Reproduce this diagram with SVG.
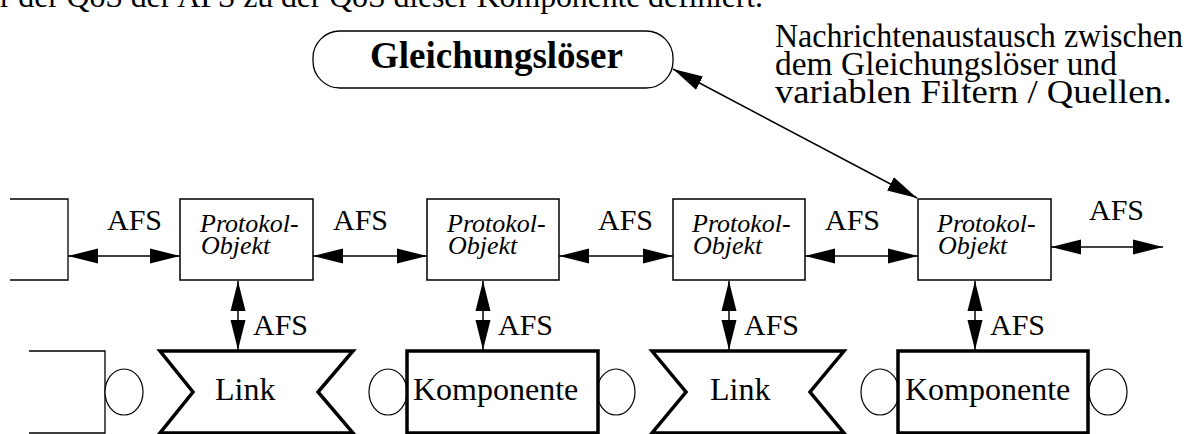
<svg xmlns="http://www.w3.org/2000/svg" width="1193" height="434" viewBox="0 0 1193 434">
  <style>
    .t { font-family: "Liberation Serif", "Times New Roman", serif; fill: #000; }
    .afs { font-size: 30px; }
    .po { font-size: 26px; font-style: italic; }
    .big { font-size: 32px; }
    .note { font-size: 33px; }
    .box { fill: #fff; stroke: #000; stroke-width: 1.5; }
    .thin { fill: none; stroke: #000; stroke-width: 1.3; }
    .thick { fill: #fff; stroke: #000; stroke-width: 3.5; }
    .ring { fill: #fff; stroke: #000; stroke-width: 1.2; }
    .conn { stroke: #000; stroke-width: 1.5; fill: none; marker-start: url(#head); marker-end: url(#head); }
  </style>
  <defs>
    <marker id="head" markerUnits="userSpaceOnUse" markerWidth="30" markerHeight="16" viewBox="0 0 30 15" refX="30" refY="7.5" orient="auto-start-reverse">
      <path d="M0,0 L30,7.5 L0,15 z" fill="#000"/>
    </marker>
  </defs>

  <rect width="1193" height="434" fill="#fff"/>

  <!-- running text line at the top edge -->
  <text class="t big" x="0" y="7" textLength="763" lengthAdjust="spacing">r der QoS der AFS zu der QoS dieser Komponente definiert.</text>

  <!-- annotation -->
  <g id="note">
    <text class="t note" x="775" y="47" textLength="408" lengthAdjust="spacingAndGlyphs">Nachrichtenaustausch zwischen</text>
    <text class="t note" x="775" y="75" textLength="342" lengthAdjust="spacingAndGlyphs">dem Gleichungslöser und</text>
    <text class="t note" x="775" y="103" textLength="397" lengthAdjust="spacingAndGlyphs">variablen Filtern / Quellen.</text>
  </g>

  <!-- solver -->
  <g id="solver">
    <rect x="313" y="31" width="360" height="57" rx="27" ry="27" fill="#fff" stroke="#000" stroke-width="1.3"/>
    <text class="t" x="370" y="68" font-size="37" font-weight="bold">Gleichungslöser</text>
  </g>

  <!-- protocol objects -->
  <g id="proto-left">
    <path class="thin" d="M10,199 H68 V280 H10"/>
  </g>
  <g id="proto-1">
    <rect class="box" x="180" y="199" width="133" height="81"/>
    <text class="t po" x="200" y="232">Protokol-</text>
    <text class="t po" x="201" y="254">Objekt</text>
  </g>
  <g id="proto-2">
    <rect class="box" x="427" y="199" width="132" height="81"/>
    <text class="t po" x="447" y="232">Protokol-</text>
    <text class="t po" x="448" y="254">Objekt</text>
  </g>
  <g id="proto-3">
    <rect class="box" x="673" y="199" width="132" height="81"/>
    <text class="t po" x="692" y="232">Protokol-</text>
    <text class="t po" x="693" y="254">Objekt</text>
  </g>
  <g id="proto-4">
    <rect class="box" x="918" y="199" width="133" height="81"/>
    <text class="t po" x="937" y="232">Protokol-</text>
    <text class="t po" x="938" y="254">Objekt</text>
  </g>

  <!-- bottom row: links and components -->
  <g id="comp-left">
    <path class="thin" d="M29,351 H105 V433 H29"/>
    <ellipse class="ring" cx="124" cy="392" rx="19" ry="23"/>
  </g>
  <g id="link-1">
    <path class="thick" d="M160,351 H353 L318,392 L353,433 H160 L193,392 Z"/>
    <text class="t big" x="215" y="400">Link</text>
  </g>
  <g id="comp-1">
    <ellipse class="ring" cx="388" cy="392" rx="19" ry="23"/>
    <ellipse class="ring" cx="616" cy="392" rx="19" ry="23"/>
    <rect class="thick" x="407" y="351" width="191" height="82"/>
    <text class="t big" x="413" y="400">Komponente</text>
  </g>
  <g id="link-2">
    <path class="thick" d="M652,351 H844 L810,392 L844,433 H652 L686,392 Z"/>
    <text class="t big" x="710" y="400">Link</text>
  </g>
  <g id="comp-2">
    <ellipse class="ring" cx="880" cy="392" rx="19" ry="23"/>
    <ellipse class="ring" cx="1108" cy="392" rx="19" ry="23"/>
    <rect class="thick" x="898" y="351" width="190" height="82"/>
    <text class="t big" x="905" y="400">Komponente</text>
  </g>

  <!-- connectors -->
  <g id="connectors">
    <line class="conn" x1="68" y1="256" x2="180" y2="256"/>
    <line class="conn" x1="313" y1="256" x2="427" y2="256"/>
    <line class="conn" x1="559" y1="256" x2="673" y2="256"/>
    <line class="conn" x1="805" y1="256" x2="918" y2="256"/>
    <line class="conn" x1="1051" y1="247" x2="1163" y2="247"/>

    <line class="conn" x1="238" y1="281" x2="238" y2="350"/>
    <line class="conn" x1="483" y1="281" x2="483" y2="350"/>
    <line class="conn" x1="729" y1="281" x2="729" y2="350"/>
    <line class="conn" x1="975" y1="281" x2="975" y2="350"/>

    <line class="conn" x1="673" y1="69" x2="917" y2="198" stroke-width="1.2"/>

    <text class="t afs" x="107" y="230">AFS</text>
    <text class="t afs" x="333" y="230">AFS</text>
    <text class="t afs" x="598" y="230">AFS</text>
    <text class="t afs" x="825" y="230">AFS</text>
    <text class="t afs" x="1089" y="220">AFS</text>

    <text class="t afs" x="253" y="335">AFS</text>
    <text class="t afs" x="498" y="335">AFS</text>
    <text class="t afs" x="744" y="335">AFS</text>
    <text class="t afs" x="990" y="335">AFS</text>
  </g>
</svg>
